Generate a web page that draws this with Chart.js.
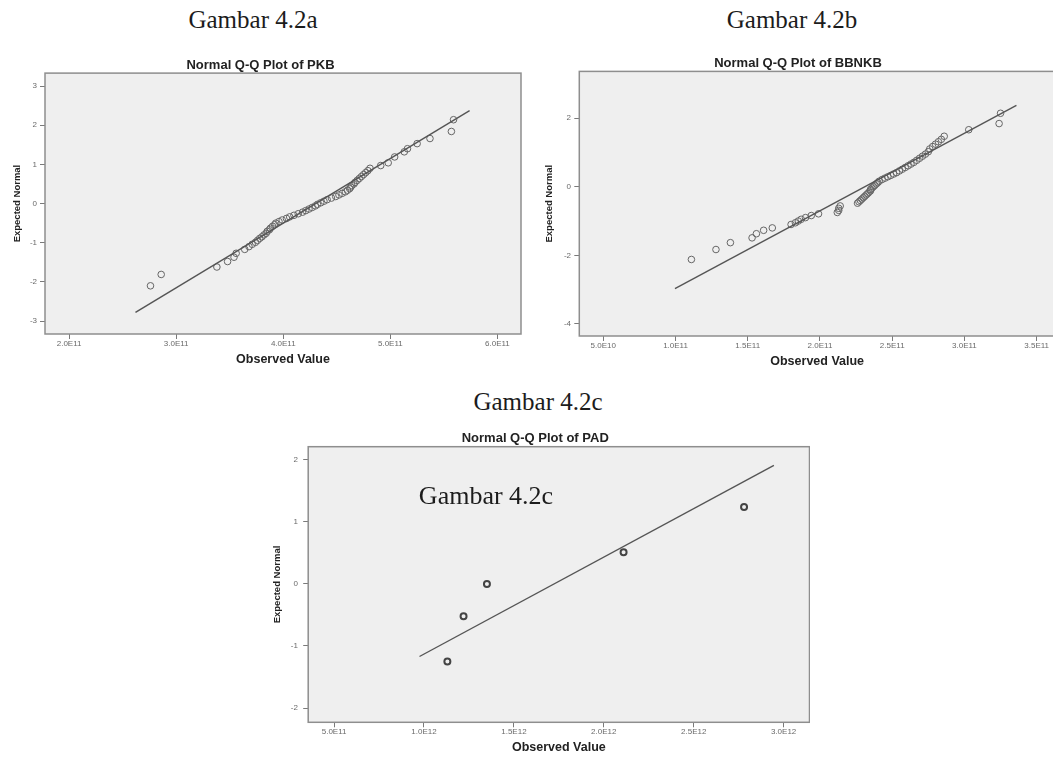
<!DOCTYPE html>
<html>
<head>
<meta charset="utf-8">
<title>Normal Q-Q Plots</title>
<script src="https://cdn.jsdelivr.net/npm/chart.js@4.4.1/dist/chart.umd.min.js"></script>
<style>
  html, body { margin: 0; padding: 0; background: #fff; }
  body { width: 1053px; height: 758px; position: relative; overflow: hidden; }
  .fig-label {
    position: absolute;
    font-family: "Liberation Serif", "DejaVu Serif", serif;
    font-size: 25px;
    line-height: 1;
    color: #1c1c1c;
    white-space: nowrap;
    transform: translate(-50%, -50%);
  }
  .panel { position: absolute; }
  .panel canvas { display: block; }
</style>
</head>
<body>

<div class="fig-label" style="left:253px; top:19px;">Gambar 4.2a</div>
<div class="fig-label" style="left:792px; top:19px;">Gambar 4.2b</div>
<div class="fig-label" style="left:538px; top:401px;">Gambar 4.2c</div>

<div class="panel" style="left:0; top:50px;"><canvas id="chart-pkb" width="524" height="320"></canvas></div>
<div class="panel" style="left:541px; top:50px;"><canvas id="chart-bbnkb" width="514" height="320"></canvas></div>
<div class="panel" style="left:261px; top:425px;"><canvas id="chart-pad" width="549" height="333"></canvas></div>

<!-- text pasted over the PAD plot in the original figure -->
<div class="fig-label" style="left:486px; top:496px; font-size:26px; z-index:2;">Gambar 4.2c</div>

<script>
    // ---- PKB ----
    const pkbObserved = [
        2.76e11, 2.86e11, 3.38e11, 3.48e11, 3.54e11, 3.56e11, 3.64e11, 3.68e11,
        3.71e11, 3.74e11, 3.76e11, 3.78e11, 3.80e11, 3.82e11, 3.84e11, 3.85e11,
        3.87e11, 3.88e11, 3.90e11, 3.92e11, 3.93e11, 3.96e11, 3.99e11, 4.03e11,
        4.06e11, 4.10e11, 4.14e11, 4.18e11, 4.21e11, 4.24e11, 4.27e11, 4.30e11,
        4.32e11, 4.35e11, 4.38e11, 4.41e11, 4.45e11, 4.49e11, 4.52e11, 4.55e11,
        4.58e11, 4.60e11, 4.62e11, 4.63e11, 4.64e11, 4.66e11, 4.67e11, 4.69e11,
        4.71e11, 4.73e11, 4.75e11, 4.77e11, 4.79e11, 4.81e11, 4.91e11, 4.98e11,
        5.04e11, 5.13e11, 5.16e11, 5.25e11, 5.37e11, 5.57e11, 5.59e11
    ];
    const pkbExpected = [
        -2.10, -1.81, -1.62, -1.48, -1.37, -1.27, -1.17, -1.10,
        -1.04, -0.99, -0.94, -0.89, -0.85, -0.80, -0.76, -0.71,
        -0.67, -0.63, -0.58, -0.54, -0.50, -0.46, -0.42, -0.38,
        -0.34, -0.30, -0.26, -0.22, -0.18, -0.14, -0.10, -0.06,
        -0.02, 0.02, 0.06, 0.10, 0.14, 0.18, 0.22, 0.26,
        0.30, 0.34, 0.38, 0.42, 0.46, 0.50, 0.54, 0.59,
        0.64, 0.69, 0.74, 0.79, 0.84, 0.90, 0.97, 1.04,
        1.19, 1.32, 1.40, 1.53, 1.66, 1.84, 2.14
    ];
    const pkbLineX = [2.62e11, 5.74e11];
    const pkbLineY = [-2.78, 2.37];
    const pkbXTicks = [2e11, 3e11, 4e11, 5e11, 6e11];
    const pkbYTicks = [-3, -2, -1, 0, 1, 2, 3];

    // ---- BBNKB ----
    const bbnkbObserved = [
        1.11e11, 1.28e11, 1.38e11, 1.53e11, 1.56e11, 1.61e11, 1.67e11, 1.80e11,
        1.83e11, 1.85e11, 1.87e11, 1.90e11, 1.94e11, 1.99e11, 2.12e11, 2.13e11,
        2.13e11, 2.14e11, 2.26e11, 2.27e11, 2.28e11, 2.29e11, 2.30e11, 2.31e11,
        2.32e11, 2.33e11, 2.34e11, 2.35e11, 2.35e11, 2.36e11, 2.37e11, 2.38e11,
        2.39e11, 2.40e11, 2.41e11, 2.43e11, 2.45e11, 2.47e11, 2.49e11, 2.51e11,
        2.53e11, 2.55e11, 2.57e11, 2.59e11, 2.61e11, 2.63e11, 2.65e11, 2.67e11,
        2.69e11, 2.71e11, 2.73e11, 2.75e11, 2.76e11, 2.78e11, 2.80e11, 2.82e11,
        2.84e11, 2.86e11, 3.03e11, 3.24e11, 3.25e11
    ];
    const bbnkbExpected = [
        -2.12, -1.83, -1.63, -1.49, -1.37, -1.27, -1.20, -1.10,
        -1.05, -1.00, -0.95, -0.90, -0.84, -0.79, -0.75, -0.69,
        -0.63, -0.56, -0.48, -0.44, -0.40, -0.36, -0.32, -0.28,
        -0.24, -0.20, -0.16, -0.12, -0.08, -0.04, 0.00, 0.04,
        0.08, 0.12, 0.16, 0.21, 0.25, 0.29, 0.33, 0.37,
        0.41, 0.46, 0.51, 0.56, 0.61, 0.66, 0.71, 0.77,
        0.83, 0.89, 0.95, 1.02, 1.10, 1.17, 1.24, 1.31,
        1.38, 1.47, 1.66, 1.84, 2.14
    ];
    const bbnkbLineX = [0.996e11, 3.36e11];
    const bbnkbLineY = [-2.97, 2.37];
    const bbnkbXTicks = [0.5e11, 1.0e11, 1.5e11, 2.0e11, 2.5e11, 3.0e11, 3.5e11];
    const bbnkbYTicks = [-4, -2, 0, 2];

    // ---- PAD ----
    const padObserved = [1.13e12, 1.22e12, 1.35e12, 2.11e12, 2.78e12];
    const padExpected = [-1.25, -0.52, 0.00, 0.51, 1.24];
    const padLineX = [0.975e12, 2.946e12];
    const padLineY = [-1.17, 1.91];
    const padXTicks = [0.5e12, 1.0e12, 1.5e12, 2.0e12, 2.5e12, 3.0e12];
    const padYTicks = [-2, -1, 0, 1, 2];

    const SANS = '"Liberation Sans", Arial, sans-serif';

    // grey plot area with a frame, like the SPSS output
    const plotFrame = {
        id: 'plotFrame',
        beforeDatasetsDraw(chart) {
            const a = chart.chartArea;
            const ctx = chart.ctx;
            ctx.save();
            ctx.fillStyle = '#efefef';
            ctx.fillRect(a.left, a.top, a.width, a.height);
            ctx.restore();
        },
        afterDraw(chart) {
            const a = chart.chartArea;
            const ctx = chart.ctx;
            ctx.save();
            ctx.strokeStyle = '#8e8e8e';
            ctx.lineWidth = 1.5;
            ctx.strokeRect(a.left, a.top, a.width, a.height);
            ctx.restore();
        }
    };

    // 2.0E11 style labels
    function sciLabel(v) {
        return Number(v).toExponential(1).replace('e+', 'E').toUpperCase();
    }

    function zip(xs, ys) {
        return xs.map((x, i) => ({ x: x, y: ys[i] }));
    }

    function makeQQ(id, s) {
        const ctx = document.getElementById(id).getContext('2d');
        return new Chart(ctx, {
            type: 'scatter',
            data: {
                datasets: [
                    {
                        data: zip(s.lineX, s.lineY),
                        showLine: true,
                        borderColor: '#555',
                        borderWidth: 1.4,
                        pointRadius: 0
                    },
                    {
                        data: zip(s.observed, s.expected),
                        pointStyle: 'circle',
                        pointRadius: s.markerRadius,
                        pointBackgroundColor: 'rgba(0,0,0,0)',
                        pointBorderColor: s.markerColor,
                        pointBorderWidth: s.markerWidth
                    }
                ]
            },
            options: {
                responsive: false,
                animation: false,
                layout: {
                    autoPadding: false,
                    padding: { left: 0, right: s.padRight, top: 0, bottom: 0 }
                },
                plugins: {
                    legend: { display: false },
                    tooltip: { enabled: false },
                    title: {
                        display: true,
                        text: s.title,
                        color: '#222',
                        font: { family: SANS, size: 13, weight: 'bold' },
                        padding: { top: s.titleTop, bottom: s.titleBottom }
                    }
                },
                scales: {
                    x: {
                        type: 'linear',
                        min: s.xMin,
                        max: s.xMax,
                        afterBuildTicks: scale => { scale.ticks = s.xTicks.map(v => ({ value: v })); },
                        afterFit: scale => {
                            // fixed axis size, and no extra room for the end labels
                            scale.height = s.xAxisHeight;
                            scale.paddingLeft = 0;
                            scale.paddingRight = 0;
                        },
                        border: { display: false },
                        grid: { drawOnChartArea: false, tickLength: 5, color: '#7a7a7a', lineWidth: 1 },
                        ticks: {
                            padding: 0,
                            color: '#6a6a6a',
                            maxRotation: 0,
                            autoSkip: false,
                            font: { family: SANS, size: 8 },
                            callback: v => sciLabel(v)
                        },
                        title: {
                            display: true,
                            text: 'Observed Value',
                            color: '#222',
                            font: { family: SANS, size: 12.5, weight: 'bold' },
                            padding: { top: 0, bottom: s.xTitleBottom }
                        }
                    },
                    y: {
                        min: s.yMin,
                        max: s.yMax,
                        afterBuildTicks: scale => { scale.ticks = s.yTicks.map(v => ({ value: v })); },
                        afterFit: scale => {
                            scale.width = s.yAxisWidth;
                            scale.paddingTop = 0;
                            scale.paddingBottom = 0;
                        },
                        border: { display: false },
                        grid: { drawOnChartArea: false, tickLength: 5, color: '#7a7a7a', lineWidth: 1 },
                        ticks: {
                            padding: s.yTickPad,
                            color: '#6a6a6a',
                            font: { family: SANS, size: 8 },
                            callback: v => String(v)
                        },
                        title: {
                            display: true,
                            text: 'Expected Normal',
                            color: '#222',
                            font: { family: SANS, size: 9.5, weight: 'bold' },
                            padding: { top: s.yTitleTop, bottom: 0 }
                        }
                    }
                }
            },
            plugins: [plotFrame]
        });
    }

    makeQQ('chart-pkb', {
        title: 'Normal Q-Q Plot of PKB',
        observed: pkbObserved, expected: pkbExpected,
        lineX: pkbLineX, lineY: pkbLineY,
        xTicks: pkbXTicks, yTicks: pkbYTicks,
        xMin: 1.775e11, xMax: 6.22e11, yMin: -3.33, yMax: 3.33,
        padRight: 3, titleTop: 7.5, titleBottom: 0,
        xAxisHeight: 36, xTitleBottom: 2.5,
        yAxisWidth: 45, yTickPad: 3, yTitleTop: 11.3,
        markerRadius: 3.3, markerColor: '#666', markerWidth: 1
    });

    makeQQ('chart-bbnkb', {
        title: 'Normal Q-Q Plot of BBNKB',
        observed: bbnkbObserved, expected: bbnkbExpected,
        lineX: bbnkbLineX, lineY: bbnkbLineY,
        xTicks: bbnkbXTicks, yTicks: bbnkbYTicks,
        xMin: 0.334e11, xMax: 3.627e11, yMin: -4.35, yMax: 3.36,
        padRight: 0, titleTop: 5.8, titleBottom: 0,
        xAxisHeight: 34, xTitleBottom: 0.8,
        yAxisWidth: 38.3, yTickPad: 3.3, yTitleTop: 2.2,
        markerRadius: 3.3, markerColor: '#666', markerWidth: 1
    });

    makeQQ('chart-pad', {
        title: 'Normal Q-Q Plot of PAD',
        observed: padObserved, expected: padExpected,
        lineX: padLineX, lineY: padLineY,
        xTicks: padXTicks, yTicks: padYTicks,
        xMin: 0.356e12, xMax: 3.144e12, yMin: -2.23, yMax: 2.21,
        padRight: 0.5, titleTop: 5.5, titleBottom: 0.6,
        xAxisHeight: 35.7, xTitleBottom: 2.8,
        yAxisWidth: 47.2, yTickPad: 5.3, yTitleTop: 10.5,
        markerRadius: 3, markerColor: '#444', markerWidth: 2
    });
</script>
</body>
</html>
